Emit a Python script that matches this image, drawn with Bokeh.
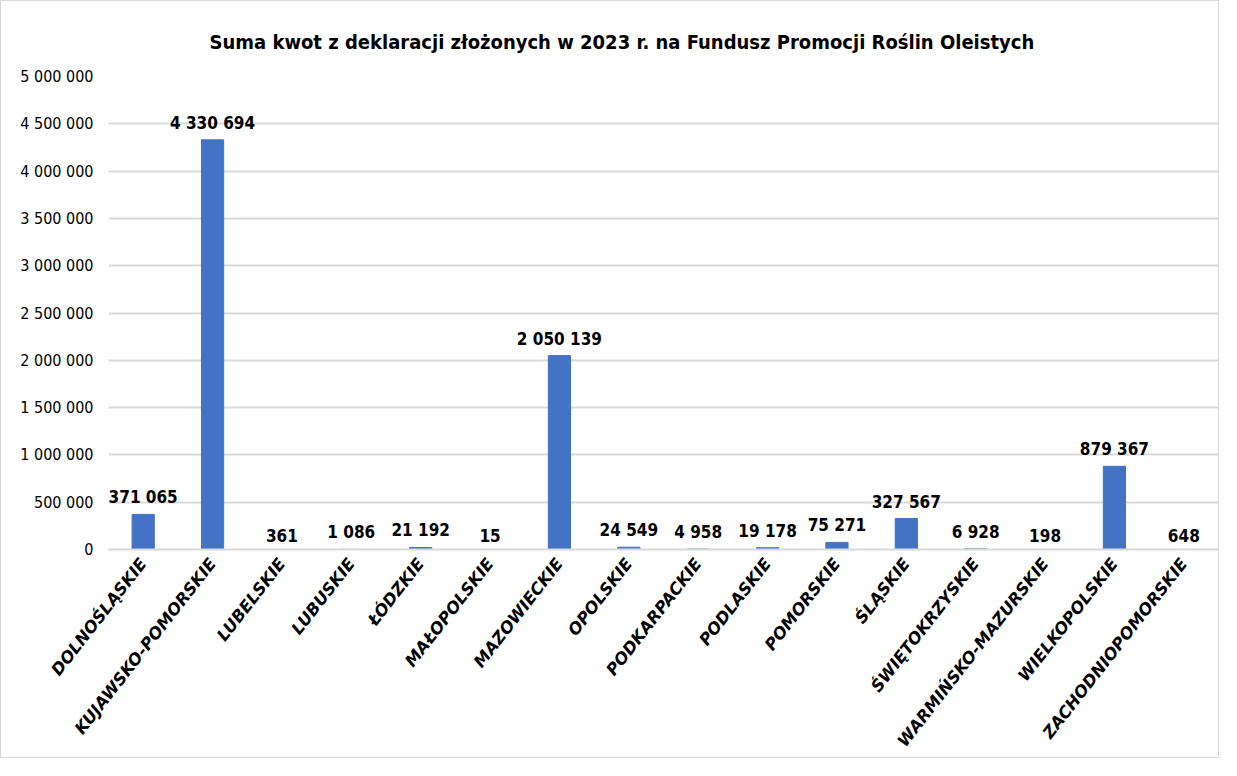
from bokeh.plotting import figure
from bokeh.models import ColumnDataSource, FixedTicker, Range1d, LabelSet
from bokeh.core.properties import value
from bokeh.embed import file_html
from bokeh.resources import INLINE
import math

categories = ["DOLNOŚLĄSKIE", "KUJAWSKO-POMORSKIE", "LUBELSKIE", "LUBUSKIE", "ŁÓDZKIE",
              "MAŁOPOLSKIE", "MAZOWIECKIE", "OPOLSKIE", "PODKARPACKIE", "PODLASKIE",
              "POMORSKIE", "ŚLĄSKIE", "ŚWIĘTOKRZYSKIE", "WARMIŃSKO-MAZURSKIE",
              "WIELKOPOLSKIE", "ZACHODNIOPOMORSKIE"]
values = [371065, 4330694, 361, 1086, 21192, 15, 2050139, 24549, 4958, 19178,
          75271, 327567, 6928, 198, 879367, 648]
y_ticks = [0, 500000, 1000000, 1500000, 2000000, 2500000, 3000000, 3500000,
           4000000, 4500000, 5000000]


def fmt(v):
    return "{:,}".format(v).replace(",", " ")


src = ColumnDataSource(dict(cat=categories, val=values, lab=[fmt(v) for v in values]))

p = figure(x_range=categories, y_range=Range1d(0, 5000000), width=1219, height=758,
           output_backend="svg", toolbar_location=None,
           min_border_left=107, min_border_right=2, min_border_top=75, min_border_bottom=40)
p.styles = {"border": "1px solid #d9d9d9"}

p.vbar(x="cat", top="val", width=0.32, source=src, color="#4472C4")

labels = LabelSet(x="cat", y="val", text="lab", source=src, text_align="center",
                  text_baseline="bottom", y_offset=7, text_font=value("DejaVu Sans Condensed"),
                  text_font_style="bold", text_font_size="17px", text_color="#000000")
p.add_layout(labels)

p.title.text = "Suma kwot z deklaracji złożonych w 2023 r. na Fundusz Promocji Roślin Oleistych"
p.title.align = "left"
p.title.offset = 101
p.title.text_color = "#000000"
p.title.text_font = "DejaVu Sans Condensed"
p.title.text_font_style = "bold"
p.title.text_font_size = "20px"
p.title.standoff = 46

p.yaxis.ticker = FixedTicker(ticks=y_ticks)
p.yaxis.major_label_overrides = {t: fmt(t) for t in y_ticks}
p.yaxis.axis_line_color = None
p.yaxis.major_tick_line_color = None
p.yaxis.major_tick_out = 0
p.yaxis.minor_tick_line_color = None
p.yaxis.major_label_standoff = 15
p.yaxis.major_label_text_font = "DejaVu Sans Condensed"
p.yaxis.major_label_text_font_size = "16px"
p.yaxis.major_label_text_color = "#000000"

p.xaxis.axis_line_color = "#d9d9d9"
p.xaxis.axis_line_width = 2
p.xaxis.major_tick_line_color = None
p.xaxis.major_tick_out = 0
p.xaxis.minor_tick_line_color = None
p.xaxis.major_label_orientation = math.radians(52)
p.xaxis.major_label_standoff = 11
p.xaxis.major_label_text_font = "DejaVu Sans"
p.xaxis.major_label_text_font_style = "bold italic"
p.xaxis.major_label_text_font_size = "16.5px"
p.xaxis.major_label_text_color = "#000000"

p.xgrid.grid_line_color = None
p.ygrid.grid_line_color = "#d9d9d9"
p.ygrid.grid_line_width = 2
p.outline_line_color = None
p.x_range.range_padding = 0.0
p.background_fill_color = "white"
p.border_fill_color = "white"

open("out.html", "w").write(file_html(p, INLINE))
